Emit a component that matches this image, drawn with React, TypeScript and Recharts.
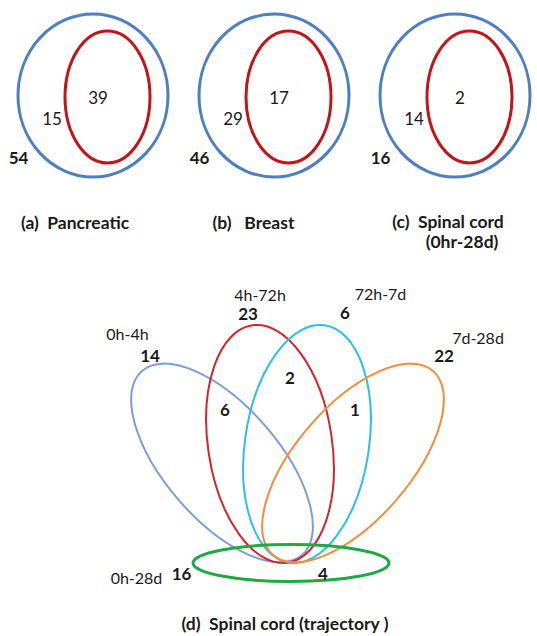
import { ScatterChart, Scatter, XAxis, YAxis } from "recharts"

// top row: three two-set Venn diagrams
const panelTitles = ["(a)  Pancreatic", "(b)   Breast", "(c)  Spinal cord"]
const panelSubtitle = "(0hr-28d)"
const outsideCounts = [54, 46, 16]
const ringCounts = [15, 29, 14]
const innerCounts = [39, 17, 2]

// bottom: spinal cord trajectory
const trajectorySets = ["0h-4h", "4h-72h", "72h-7d", "7d-28d", "0h-28d"]
const trajectoryCounts = [14, 23, 6, 22, 16]
const overlapCounts = [6, 2, 1, 4]
const trajectoryTitle = "(d)  Spinal cord (trajectory )"

const W = 537
const H = 636
const FONT = "Lato, 'Open Sans', sans-serif"

// layout (pixel units, axes map 1:1)
const topOffsets = [0, 181, 362]
const shapes = [
  ...topOffsets.flatMap((dx) => [
    { x: 93 + dx, y: 95.5, rx: 75, ry: 81.5, rot: 0, color: "#4F7FBF", w: 3 },
    { x: 107.5 + dx, y: 97, rx: 42.5, ry: 66, rot: 0, color: "#C0161B", w: 3 },
  ]),
  { x: 222, y: 463, rx: 122, ry: 57, rot: 49, color: "#7C9ED3", w: 2 },
  { x: 270, y: 444, rx: 62, ry: 120, rot: -8.5, color: "#D0262C", w: 2 },
  { x: 307, y: 444, rx: 62, ry: 120, rot: 8.5, color: "#2EBCF2", w: 2 },
  { x: 353, y: 463, rx: 122, ry: 57, rot: -49, color: "#F78B3A", w: 2 },
  { x: 291, y: 563, rx: 98, ry: 18.5, rot: 0, color: "#1DAA44", w: 3 },
]

const NUM = 17
const LBL = 16
const TTL = 17.5

const texts = [
  ...topOffsets.flatMap((dx, i) => [
    { x: 98 + dx, y: 97, t: String(innerCounts[i]), b: false, s: NUM },
    { x: 52 + dx, y: 118, t: String(ringCounts[i]), b: false, s: NUM },
    { x: 18.5 + dx, y: 157, t: String(outsideCounts[i]), b: true, s: NUM },
  ]),
  { x: 75, y: 222, t: panelTitles[0], b: true, s: TTL },
  { x: 253.5, y: 222, t: panelTitles[1], b: true, s: TTL },
  { x: 448, y: 221, t: panelTitles[2], b: true, s: TTL },
  { x: 462, y: 241, t: panelSubtitle, b: true, s: TTL },
  { x: 127.5, y: 333, t: trajectorySets[0], b: false, s: LBL },
  { x: 150, y: 355, t: String(trajectoryCounts[0]), b: true, s: NUM },
  { x: 260, y: 294, t: trajectorySets[1], b: false, s: LBL },
  { x: 248, y: 313, t: String(trajectoryCounts[1]), b: true, s: NUM },
  { x: 380.5, y: 293, t: trajectorySets[2], b: false, s: LBL },
  { x: 345, y: 312, t: String(trajectoryCounts[2]), b: true, s: NUM },
  { x: 478, y: 337, t: trajectorySets[3], b: false, s: LBL },
  { x: 444, y: 355, t: String(trajectoryCounts[3]), b: true, s: NUM },
  { x: 136.5, y: 577, t: trajectorySets[4], b: false, s: LBL },
  { x: 181.5, y: 573, t: String(trajectoryCounts[4]), b: true, s: NUM },
  { x: 225, y: 409, t: String(overlapCounts[0]), b: true, s: NUM },
  { x: 290, y: 377, t: String(overlapCounts[1]), b: true, s: NUM },
  { x: 355, y: 409, t: String(overlapCounts[2]), b: true, s: NUM },
  { x: 323, y: 573, t: String(overlapCounts[3]), b: true, s: NUM },
  { x: 285, y: 623, t: trajectoryTitle, b: true, s: TTL },
]

const EllipseShape = (props: any) => {
  const { cx, cy, payload } = props
  return (
    <ellipse
      cx={cx}
      cy={cy}
      rx={payload.rx}
      ry={payload.ry}
      transform={`rotate(${payload.rot} ${cx} ${cy})`}
      fill="none"
      stroke={payload.color}
      strokeWidth={payload.w}
    />
  )
}

const TextShape = (props: any) => {
  const { cx, cy, payload } = props
  return (
    <text
      x={cx}
      y={cy}
      textAnchor="middle"
      dominantBaseline="central"
      fontFamily={FONT}
      fontSize={payload.s}
      fontWeight={payload.b ? 700 : 400}
      fill="#1a1a1a"
      style={{ whiteSpace: "pre" }}
    >
      {payload.t}
    </text>
  )
}

export default function App() {
  return (
    <div style={{ position: "absolute", left: 0, top: 0, background: "#fff" }}>
      <ScatterChart width={W} height={H} margin={{ top: 0, right: 0, bottom: 0, left: 0 }}>
        <XAxis type="number" dataKey="x" domain={[0, W]} hide />
        <YAxis type="number" dataKey="y" domain={[0, H]} reversed hide />
        <Scatter data={shapes} shape={EllipseShape} isAnimationActive={false} />
        <Scatter data={texts} shape={TextShape} isAnimationActive={false} />
      </ScatterChart>
    </div>
  )
}
